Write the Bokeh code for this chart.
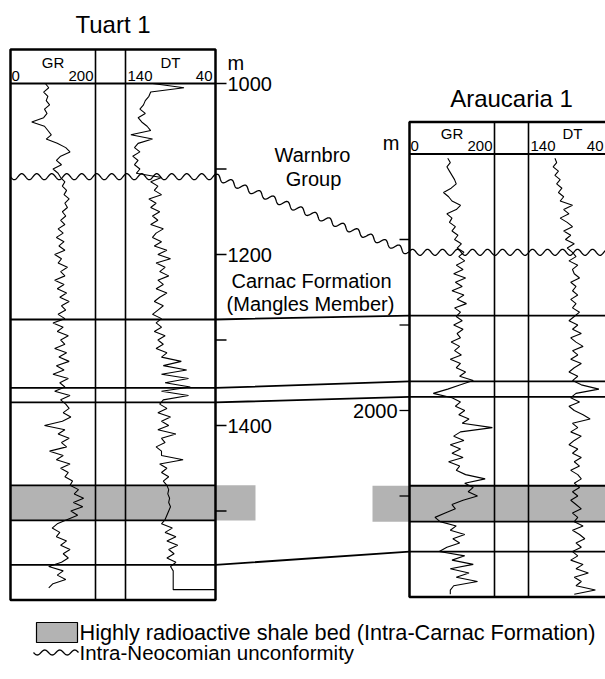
import numpy as np
from bokeh.plotting import figure
from bokeh.models import Range1d
from bokeh.core.properties import value
from bokeh.embed import file_html
from bokeh.resources import INLINE

FONT = "Liberation Sans"

# ------------------------------------------------------------------ data
STEP = 5
# Tuart 1 logs (depth in m, sampled every 5 m)
tuart_gr_top = 1000
tuart_gr = [
    82, 90, 78, 88, 84, 92, 80, 86, 78, 50,
    80, 88, 96, 84, 110, 130, 140, 118, 108, 120,
    100, 112, 118, 128, 122, 132, 126, 138, 128, 134,
    122, 130, 118, 128, 112, 124, 108, 126, 114, 128,
    104, 120, 112, 134, 118, 128, 104, 126, 110, 132,
    116, 138, 120, 130, 112, 128, 100, 124, 110, 136,
    118, 128, 104, 132, 114, 138, 108, 126, 100, 136,
    116, 128, 104, 140, 118, 130, 138, 124, 142, 122,
    80, 128, 112, 138, 120, 132, 92, 124, 108, 140,
    118, 136, 128, 146, 140, 160, 150, 172, 148, 170,
    142, 158, 134, 110, 98, 116, 108, 132, 118, 140,
    124, 136, 120, 90, 124, 110, 130, 100, 90,
]
tuart_dt_top = 1000
tuart_dt = [
    110, 75, 112, 114, 118, 120, 124, 118, 126, 122,
    116, 112, 134, 110, 126, 130, 124, 132, 126, 130,
    124, 128, 100, 112, 104, 108, 100, 114, 106, 112,
    102, 110, 104, 112, 98, 106, 110, 100, 108, 94,
    104, 90, 106, 96, 102, 92, 104, 98, 106, 94,
    102, 108, 98, 104, 110, 100, 106, 100, 108, 96,
    104, 98, 106, 94, 100, 78, 98, 72, 100, 70,
    96, 68, 100, 70, 98, 102, 94, 104, 90, 100,
    92, 104, 84, 100, 96, 106, 100, 100, 76, 102,
    94, 100, 92, 98, 94, 92, 93, 91, 92, 90,
    92, 94, 96, 100, 88, 96, 84, 94, 82, 92,
    86, 94, 84, 90, 87,
]
tuart_dt_tail_depth = [1592, 1592]
tuart_dt_tail = [87, 40]

# Araucaria 1 logs
arau_gr_top = 1705
arau_gr = [
    90, 96, 88, 94, 100, 106, 110, 98, 80, 92,
    100, 120, 110, 88, 100, 94, 108, 100, 114, 106,
    122, 112, 128, 116, 130, 110, 126, 104, 132, 108,
    124, 100, 128, 112, 134, 106, 120, 110, 124, 104,
    126, 112, 120, 98, 118, 106, 122, 96, 120, 110,
    132, 118, 150, 120, 90, 56, 100, 120, 108, 130,
    116, 140, 124, 195, 120, 104, 128, 96, 120, 100,
    126, 92, 118, 110, 132, 178, 130, 150, 138, 160,
    126, 100, 108, 84, 60, 72, 110, 96, 130, 102,
    118, 88, 70, 130, 100, 150, 96, 140, 110, 160,
    104, 96, 96,
]
arau_dt_top = 1705
arau_dt = [
    110, 108, 112, 106, 110, 104, 108, 102, 106, 100,
    104, 90, 100, 94, 104, 96, 90, 100, 92, 98,
    88, 96, 90, 86, 94, 84, 90, 88, 82, 92,
    86, 90, 84, 92, 86, 90, 82, 88, 94, 84,
    90, 80, 92, 86, 78, 90, 84, 92, 80, 88,
    94, 84, 90, 80, 60, 86, 92, 82, 94, 88,
    78, 70, 90, 84, 92, 80, 88, 94, 84, 90,
    80, 88, 82, 92, 84, 80, 88, 82, 90, 84,
    92, 86, 80, 90, 84, 88, 78, 90, 82, 76,
    86, 80, 90, 84, 92, 78, 86, 72, 88, 80,
    86, 64, 88,
]

# well extents and correlated surfaces (m)
tuart_top, tuart_td = 1000, 1604
arau_top, arau_td = 1700, 2218
tuart_unconf, arau_unconf = 1109, 1815
tuart_corr = [1276, 1356, 1373, 1563]
arau_corr = [1889, 1966, 1984, 2165]
tuart_shale = (1470, 1511)
arau_shale = (2088, 2130)

tuart_major = [1000, 1200, 1400]
tuart_minor = [1100, 1300, 1500]
arau_major = [2000]
arau_minor = [1800, 1900, 2100]

well_names = ["Tuart 1", "Araucaria 1"]
log_names = ["GR", "DT"]
gr_scale = (0, 200)
dt_scale = (140, 40)
legend_labels = ["Highly radioactive shale bed (Intra-Carnac Formation)",
                 "Intra-Neocomian unconformity"]
formation_labels = ["Warnbro", "Group", "Carnac Formation", "(Mangles Member)"]

# ------------------------------------------------------------------ layout
W, H = 605, 679
PX_PER_M = 0.855
T_REF_D, T_REF_PX = 1000, 83
A_REF_D, A_REF_PX = 2000, 410
HDR_T, HDR_A = 34, 32
T_X0, T_GR1, T_DT0, T_X1 = 10, 95, 125, 215
A_X0, A_GR1, A_DT0, A_X1 = 409, 494, 528, 616
GRAY = "#b3b3b3"


def t_px(d):
    return T_REF_PX + (d - T_REF_D) * PX_PER_M


def a_px(d):
    return A_REF_PX + (d - A_REF_D) * PX_PER_M


def depth_range(ref_d, ref_px):
    return Range1d(start=ref_d + (H - ref_px) / PX_PER_M, end=ref_d - ref_px / PX_PER_M)


def track_range(v0, v1, p0, p1):
    k = (v1 - v0) / (p1 - p0)
    return Range1d(start=v0 - p0 * k, end=v0 + (W - p0) * k)


p = figure(width=W, height=H, x_range=Range1d(0, W), y_range=Range1d(H, 0),
           x_axis_type=None, y_axis_type=None, toolbar_location=None,
           output_backend="svg", min_border=0)
p.grid.visible = False
p.outline_line_color = None
p.background_fill_color = "white"
p.border_fill_color = "white"

p.extra_y_ranges = {"tuart": depth_range(T_REF_D, T_REF_PX),
                    "arau": depth_range(A_REF_D, A_REF_PX)}
p.extra_x_ranges = {"t_gr": track_range(*gr_scale, T_X0, T_GR1),
                    "t_dt": track_range(*dt_scale, T_DT0, T_X1),
                    "a_gr": track_range(*gr_scale, A_X0, A_GR1),
                    "a_dt": track_range(*dt_scale, A_DT0, A_X1)}

# shale beds (grey)
p.quad(left=[T_X0], right=[255], top=[tuart_shale[0]], bottom=[tuart_shale[1]],
       fill_color=GRAY, line_color=None, y_range_name="tuart")
p.quad(left=[372], right=[W + 20], top=[arau_shale[0]], bottom=[arau_shale[1]],
       fill_color=GRAY, line_color=None, y_range_name="arau")
for d in tuart_shale:
    p.segment(x0=[T_X0], x1=[T_X1], y0=[d], y1=[d], line_color="black",
              line_width=1.8, y_range_name="tuart")
for d in arau_shale:
    p.segment(x0=[A_X0], x1=[W + 20], y0=[d], y1=[d], line_color="black",
              line_width=1.8, y_range_name="arau")

# logs
t_gr_d = tuart_gr_top + STEP * np.arange(len(tuart_gr))
t_dt_d = list(tuart_dt_top + STEP * np.arange(len(tuart_dt))) + tuart_dt_tail_depth
a_gr_d = arau_gr_top + STEP * np.arange(len(arau_gr))
a_dt_d = arau_dt_top + STEP * np.arange(len(arau_dt))
p.line(tuart_gr, t_gr_d, x_range_name="t_gr", y_range_name="tuart", line_color="black", line_width=1.1)
p.line(tuart_dt + tuart_dt_tail, t_dt_d, x_range_name="t_dt", y_range_name="tuart", line_color="black", line_width=1.1)
p.line(arau_gr, a_gr_d, x_range_name="a_gr", y_range_name="arau", line_color="black", line_width=1.1)
p.line(arau_dt, a_dt_d, x_range_name="a_dt", y_range_name="arau", line_color="black", line_width=1.1)

# well frames
t_hdr = tuart_top - HDR_T / PX_PER_M
a_hdr = arau_top - HDR_A / PX_PER_M
p.quad(left=[T_X0], right=[T_X1], top=[t_hdr], bottom=[tuart_td], fill_color=None,
       line_color="black", line_width=2.5, y_range_name="tuart")
p.segment(x0=[T_GR1, T_DT0], x1=[T_GR1, T_DT0], y0=[t_hdr] * 2, y1=[tuart_td] * 2,
          line_color="black", line_width=1.6, y_range_name="tuart")
p.segment(x0=[T_X0], x1=[T_X1], y0=[tuart_top], y1=[tuart_top], line_color="black",
          line_width=2, y_range_name="tuart")
p.quad(left=[A_X0], right=[W + 30], top=[a_hdr], bottom=[arau_td], fill_color=None,
       line_color="black", line_width=2.5, y_range_name="arau")
p.segment(x0=[A_GR1, A_DT0], x1=[A_GR1, A_DT0], y0=[a_hdr] * 2, y1=[arau_td] * 2,
          line_color="black", line_width=1.6, y_range_name="arau")
p.segment(x0=[A_X0], x1=[W + 30], y0=[arau_top], y1=[arau_top], line_color="black",
          line_width=2, y_range_name="arau")

# correlation lines
xs, ys = [], []
for dt_, da_ in zip(tuart_corr, arau_corr):
    xs.append([T_X0, T_X1, A_X0, W + 20])
    ys.append([t_px(dt_), t_px(dt_), a_px(da_), a_px(da_)])
p.multi_line(xs, ys, line_color="black", line_width=1.8)


def wavy(points, wavelength=15.0, amp=3.0, step=0.5):
    pts = np.asarray(points, float)
    ox, oy = [], []
    s0 = 0.0
    for (x0, y0), (x1, y1) in zip(pts[:-1], pts[1:]):
        L = np.hypot(x1 - x0, y1 - y0)
        n = max(int(L / step), 1)
        t = np.arange(n) / n
        nx, ny = -(y1 - y0) / L, (x1 - x0) / L
        off = amp * np.sin(2 * np.pi * (s0 + t * L) / wavelength)
        ox.extend(x0 + t * (x1 - x0) + off * nx)
        oy.extend(y0 + t * (y1 - y0) + off * ny)
        s0 += L
    ox.append(pts[-1][0]); oy.append(pts[-1][1])
    return ox, oy


ux, uy = wavy([(T_X0, t_px(tuart_unconf)), (T_X1, t_px(tuart_unconf)),
               (A_X0, a_px(arau_unconf)), (W + 10, a_px(arau_unconf))])
p.line(ux, uy, line_color="black", line_width=1.3)

# depth ticks
p.segment(x0=[T_X1] * 6, x1=[T_X1 + 11] * 6, y0=tuart_major + tuart_minor,
          y1=tuart_major + tuart_minor, line_color="black", line_width=1.3, y_range_name="tuart")
p.segment(x0=[A_X0 - 10] * 4, x1=[A_X0] * 4, y0=arau_major + arau_minor,
          y1=arau_major + arau_minor, line_color="black", line_width=1.3, y_range_name="arau")
p.text(x=[T_X1 + 12] * 3, y=tuart_major, text=[str(v) for v in tuart_major],
       text_font=value(FONT), text_font_size="20px", text_align="left",
       text_baseline="middle", y_range_name="tuart")
p.text(x=[A_X0 - 12], y=arau_major, text=[str(v) for v in arau_major],
       text_font=value(FONT), text_font_size="20px", text_align="right",
       text_baseline="middle", y_range_name="arau")


def txt(x, y, s, size, align="center", color="black"):
    p.text(x=[x], y=[y], text=[s], text_font=value(FONT), text_font_size=size,
           text_align=align, text_baseline="middle", text_color=color)


# titles and units
txt((T_X0 + T_X1) / 2, 24, well_names[0], "24px")
txt(511, 98, well_names[1], "24px")
txt(T_X1 + 12, 62, "m", "20px", "left")
txt(A_X0 - 10, 142, "m", "20px", "right")

# track headers
for (x0, x1), yt in [((T_X0, T_GR1), t_px(tuart_top)), ((A_X0, A_GR1), a_px(arau_top))]:
    txt((x0 + x1) / 2, yt - 21, log_names[0], "15px")
    txt(x0 + 1, yt - 8, str(gr_scale[0]), "15px", "left")
    txt(x1 - 2, yt - 8, str(gr_scale[1]), "15px", "right")
for (x0, x1), yt in [((T_DT0, T_X1), t_px(tuart_top)), ((A_DT0, A_X1), a_px(arau_top))]:
    txt((x0 + x1) / 2, yt - 21, log_names[1], "15px")
    txt(x0 + 2, yt - 8, str(dt_scale[0]), "15px", "left")
    txt(min(x1 - 3, W - 2), yt - 8, str(dt_scale[1]), "15px", "right")

# formation names
txt(312, 154, formation_labels[0], "20px")
txt(313, 178, formation_labels[1], "20px")
txt(311, 280, formation_labels[2], "20px")
txt(310, 303, formation_labels[3], "20px")

# legend
p.quad(left=[36], right=[77], top=[622], bottom=[642], fill_color=GRAY,
       line_color="black", line_width=1.2)
txt(79, 632, legend_labels[0], "21.7px", "left")
lx, ly = wavy([(33, 652), (78, 652)], wavelength=15, amp=2.5)
p.line(lx, ly, line_color="black", line_width=1.3)
txt(79, 652, legend_labels[1], "20.5px", "left")

open("out.html", "w").write(file_html(p, INLINE))
